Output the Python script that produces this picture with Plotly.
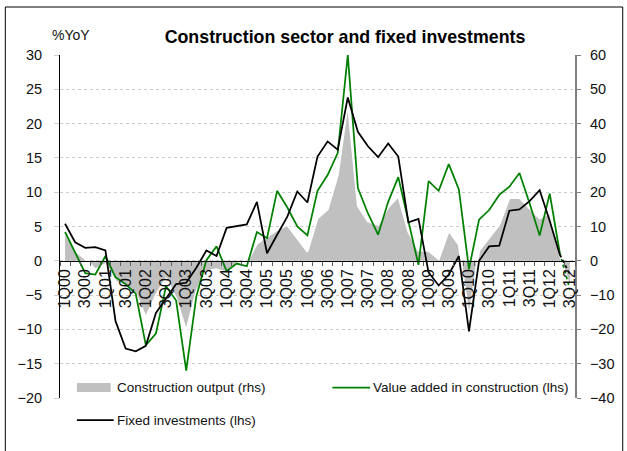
import plotly.graph_objects as go

# ---------------- data ----------------
quarters = [f"{q}Q{y:02d}" for y in range(0, 13) for q in (1, 2, 3, 4)][:51]
tick_labels = [q if i % 2 == 0 else "" for i, q in enumerate(quarters)]

construction_output = [
    8.0, 3.0, 0.5, -2.5, -1.0, -6.0, -7.5, -9.5, -16.5, -10.0,
    -5.0, -11.0, -20.5, -9.0, -3.0, -2.5, -3.5, -0.7, -0.5, 5.0,
    7.0, 9.0, 10.5, 6.6, 2.7, 12.4, 15.0, 25.0, 46.0, 16.0,
    11.5, 10.5, 15.6, 18.8, 8.5, 3.0, 2.9, 0.5, 8.7, 4.7,
    -16.7, 3.0, 6.6, 10.5, 18.3, 18.4, 15.3, 12.4, 13.9, 1.7,
    -8.0,
]
value_added = [
    4.2, 1.2, -1.8, -2.0, 0.7, -2.4, -3.4, -4.8, -12.3, -10.6,
    -3.7, -5.8, -16.0, -5.2, 0.1, 2.1, -1.5, -0.4, -0.8, 4.2,
    3.3, 10.2, 7.8, 5.0, 3.7, 10.2, 12.5, 15.7, 30.0, 10.6,
    6.9, 3.8, 8.6, 12.2, 5.7, -0.6, 11.6, 10.2, 14.1, 10.4,
    -1.2, 6.0, 7.4, 9.6, 10.8, 12.8, 8.4, 3.7, 9.8, 1.1,
    -4.2,
]
fixed_investments = [
    5.4, 2.7, 1.9, 2.0, 1.5, -8.8, -12.8, -13.2, -12.4, -7.6,
    -5.5, -3.4, -3.2, -1.0, 1.5, 0.7, 4.8, 5.0, 5.3, 8.6,
    1.1, 3.8, 6.4, 10.1, 8.5, 15.2, 17.4, 16.2, 23.8, 18.8,
    16.7, 15.1, 17.1, 15.2, 5.6, 6.1, -1.7, -3.6, -2.0, 0.7,
    -10.3, 0.0, 2.1, 2.2, 7.3, 7.5, 8.7, 10.3, 5.8, 0.9,
    -2.0,
]

REG = "Liberation Sans, Arial, sans-serif"
GREEN = "#008000"
GRAY = "#c0c0c0"

fig = go.Figure()

# gray area on right axis (drawn underneath)
fig.add_trace(go.Scatter(
    x=quarters, y=construction_output, xaxis="x", yaxis="y",
    mode="lines", fill="tozeroy", fillcolor=GRAY,
    line=dict(color="white", width=2), name="Construction output (rhs)",
    showlegend=False, hoverinfo="skip",
))

n = len(quarters)
# lines on left axis
fig.add_trace(go.Scatter(
    x=quarters[:n - 1], y=value_added[:n - 1], xaxis="x", yaxis="y2",
    mode="lines", line=dict(color=GREEN, width=1.75),
    name="Value added in construction (lhs)", showlegend=False,
))
fig.add_trace(go.Scatter(
    x=quarters[n - 2:], y=value_added[n - 2:], xaxis="x", yaxis="y2",
    mode="lines", line=dict(color=GREEN, width=1.75, dash="dot"),
    showlegend=False,
))
fig.add_trace(go.Scatter(
    x=quarters[:n - 1], y=fixed_investments[:n - 1], xaxis="x", yaxis="y2",
    mode="lines", line=dict(color="black", width=1.75),
    name="Fixed investments (lhs)", showlegend=False,
))
fig.add_trace(go.Scatter(
    x=quarters[n - 2:], y=fixed_investments[n - 2:], xaxis="x", yaxis="y2",
    mode="lines", line=dict(color="black", width=1.75, dash="dot"),
    showlegend=False,
))

fig.update_layout(
    width=627, height=451, autosize=False,
    margin=dict(l=60, r=49, t=55, b=53, pad=0),
    paper_bgcolor="white", plot_bgcolor="white",
    showlegend=False,
    title=dict(
        text="<b>Construction sector and fixed investments</b>",
        x=345 / 627, xref="container", xanchor="center",
        y=1 - 37 / 451, yref="container", yanchor="middle",
        font=dict(family=REG, size=17.8, color="black"),
    ),
    xaxis=dict(
        type="category", categoryorder="array", categoryarray=quarters,
        range=[-0.5, n - 0.5],
        anchor="free", position=0.4,
        showline=True, linecolor="black", linewidth=1,
        ticks="outside", ticklen=4, tickcolor="#606060", tickwidth=1,
        tickson="boundaries",
        tickmode="array", tickvals=quarters, ticktext=tick_labels,
        tickangle=-90, tickfont=dict(family=REG, size=16, color="#111111"),
        ticklabelstandoff=1,
        showgrid=False, zeroline=False,
    ),
    yaxis=dict(
        side="right", range=[-40, 60], dtick=10, tick0=0,
        showline=True, linecolor="#808080", linewidth=2,
        ticks="outside", ticklen=4, tickcolor="#808080",
        tickfont=dict(family=REG, size=14.5, color="#111111"),
        ticklabelstandoff=6,
        showgrid=False, zeroline=False,
    ),
    yaxis2=dict(
        overlaying="y", side="left", range=[-20, 30], dtick=5, tick0=0,
        showline=True, linecolor="black", linewidth=1,
        ticks="outside", ticklen=5, tickcolor="#d0d0d0",
        tickfont=dict(family=REG, size=14.5, color="#111111"),
        ticklabelstandoff=9,
        showgrid=True, gridcolor="#cccccc", griddash="dot", gridwidth=1,
        zeroline=False,
    ),
)

def px_x(p):
    return (p - 60) / 518.0

def px_y(p):
    return (398 - p) / 343.0

shapes = [
    # outer frame
    dict(type="rect", xref="paper", yref="paper",
         x0=px_x(5), x1=px_x(626), y0=px_y(470), y1=px_y(7),
         line=dict(color="black", width=1), fillcolor="rgba(0,0,0,0)", layer="above"),
    # legend symbols
    dict(type="rect", xref="paper", yref="paper",
         x0=px_x(77), x1=px_x(111), y0=px_y(392), y1=px_y(383),
         line=dict(width=0), fillcolor=GRAY),
    dict(type="line", xref="paper", yref="paper",
         x0=px_x(334), x1=px_x(372), y0=px_y(387.5), y1=px_y(387.5),
         line=dict(color=GREEN, width=1.75)),
    dict(type="line", xref="paper", yref="paper",
         x0=px_x(77), x1=px_x(114), y0=px_y(420), y1=px_y(420),
         line=dict(color="black", width=1.75)),
]
fig.update_layout(shapes=shapes)

ann_font = dict(family=REG, size=13.5, color="#111111")
annotations = [
    dict(text="%YoY", xref="paper", yref="paper", x=px_x(50), y=px_y(35),
         xanchor="left", yanchor="middle", showarrow=False,
         font=dict(family=REG, size=14, color="#111111")),
    dict(text="Construction output (rhs)", xref="paper", yref="paper",
         x=px_x(115), y=px_y(387.5), xanchor="left", yanchor="middle",
         showarrow=False, font=ann_font),
    dict(text="Value added in construction (lhs)", xref="paper", yref="paper",
         x=px_x(373), y=px_y(387.5), xanchor="left", yanchor="middle",
         showarrow=False, font=ann_font),
    dict(text="Fixed investments (lhs)", xref="paper", yref="paper",
         x=px_x(115), y=px_y(420), xanchor="left", yanchor="middle",
         showarrow=False, font=ann_font),
]
fig.update_layout(annotations=annotations)

fig.write_html(
    "out.html",
    config={"displayModeBar": False},
    post_script="document.body.style.margin='0';document.body.style.overflow='hidden';",
)
